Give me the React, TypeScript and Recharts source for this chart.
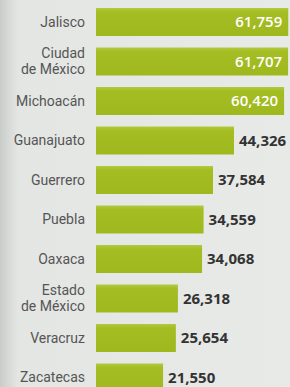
import React from 'react';
import { BarChart, Bar, XAxis, YAxis, LabelList } from 'recharts';

// estados y valores
const states = [
  'Jalisco',
  'Ciudad\nde México',
  'Michoacán',
  'Guanajuato',
  'Guerrero',
  'Puebla',
  'Oaxaca',
  'Estado\nde México',
  'Veracruz',
  'Zacatecas',
];
const values = [61759, 61707, 60420, 44326, 37584, 34559, 34068, 26318, 25654, 21550];

const data = states.map((name, i) => ({ name, value: values[i] }));

const FONT = '"Open Sans", sans-serif';
const TICK_FONT = 'Roboto, sans-serif';
const LINE = 16.5;

const StateTick = (props: any) => {
  const { x, y, payload } = props;
  const lines = String(payload.value).split('\n');
  const offset = ((lines.length - 1) * LINE) / 2;
  return (
    <g>
      {lines.map((l, i) => (
        <text
          key={i}
          x={x - 3}
          y={y - offset + i * LINE}
          dy="0.35em"
          textAnchor="end"
          fill="#555"
          fontSize={14}
          fontFamily={TICK_FONT}
        >
          {l}
        </text>
      ))}
    </g>
  );
};

const ValueLabel = (props: any) => {
  const { x, y, width, height, value } = props;
  const inside = value > 50000;
  const fmt = value.toLocaleString('en-US');
  return (
    <text
      x={inside ? x + width - 6 : x + width + 5}
      y={y + height / 2}
      dy="0.35em"
      textAnchor={inside ? 'end' : 'start'}
      fill={inside ? '#fff' : '#333'}
      fontSize={15}
      fontWeight={inside ? 600 : 700}
      fontFamily={FONT}
    >
      {fmt}
    </text>
  );
};

export default function App() {
  return (
    <div
      style={{
        position: 'fixed',
        left: 0,
        top: 0,
        width: 290,
        height: 387,
        overflow: 'hidden',
        background: 'linear-gradient(to right, #c9cdc9 0px, #e4e6e4 18px, #e8eae8 100%)',
      }}
    >
      <BarChart
        width={290}
        height={397}
        data={data}
        layout="vertical"
        margin={{ top: 2, right: 1, bottom: 0, left: 0 }}
      >
        <defs>
          <linearGradient id="barFill" x1="0" y1="0" x2="0" y2="1">
            <stop offset="0%" stopColor="#b2c93e" />
            <stop offset="15%" stopColor="#a4bd22" />
            <stop offset="100%" stopColor="#9fb81e" />
          </linearGradient>
        </defs>
        <XAxis type="number" domain={[0, 62000]} hide />
        <YAxis
          type="category"
          dataKey="name"
          width={96}
          axisLine={false}
          tickLine={false}
          interval={0}
          tick={<StateTick />}
        />
        <Bar dataKey="value" fill="url(#barFill)" barSize={28} isAnimationActive={false}>
          <LabelList dataKey="value" content={<ValueLabel />} />
        </Bar>
      </BarChart>
    </div>
  );
}
